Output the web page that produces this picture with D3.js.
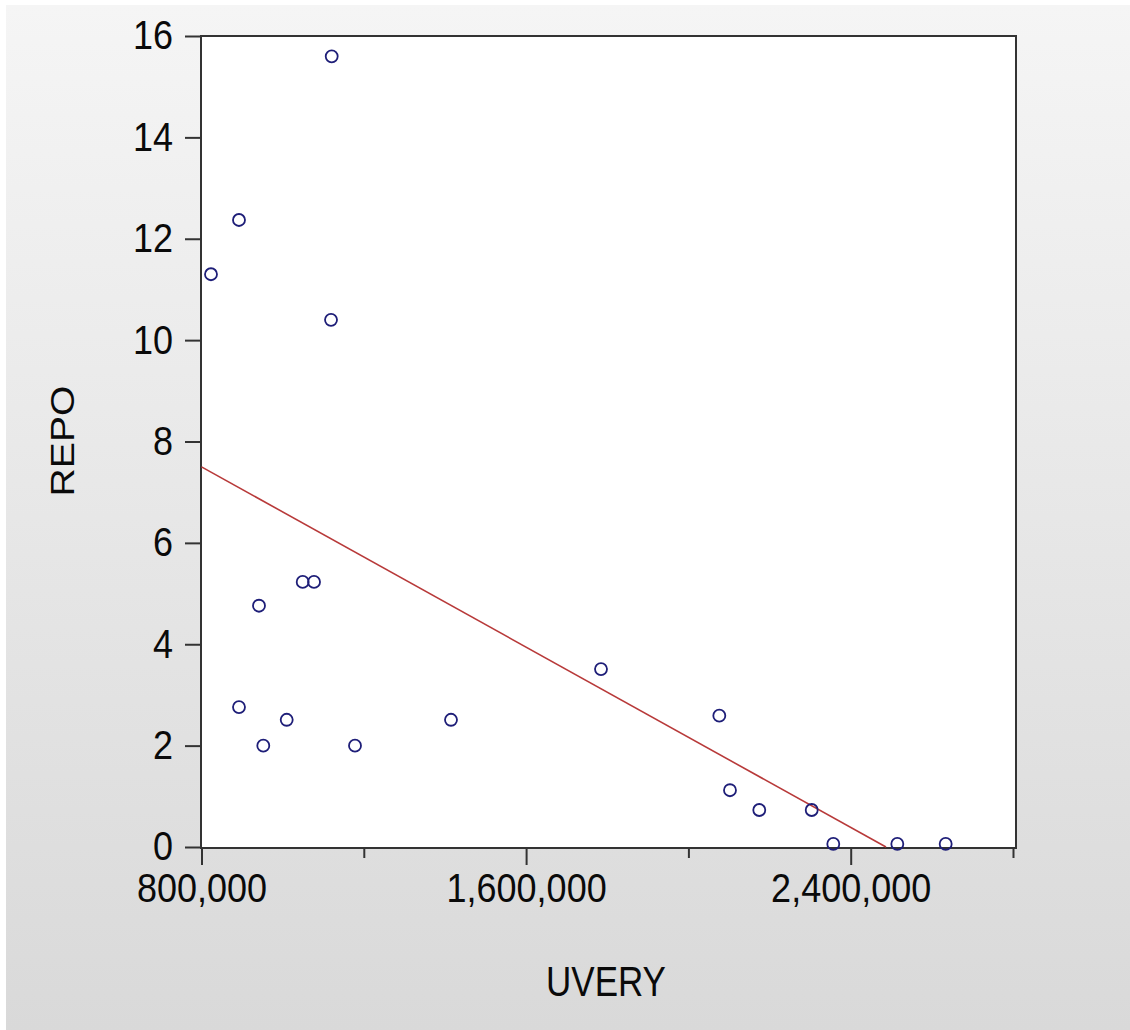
<!DOCTYPE html>
<html>
<head>
<meta charset="utf-8">
<script src="https://cdn.jsdelivr.net/npm/d3@7"></script>
<style>
  html, body { margin: 0; padding: 0; background: #ffffff; }
  svg { display: block; }
</style>
</head>
<body>
<svg id="chart" width="1130" height="1030"></svg>
<script>
// ---- data ----
const uvery = [823400, 892400, 1120900, 1119200, 941700, 1049400, 1077300, 892400, 952300, 1010000,
               1178300, 1414900, 1784600, 2076200, 2102500, 2174700, 2303900, 2357100, 2514900, 2634100];
const repo  = [11.30, 12.37, 15.60, 10.40, 4.76, 5.23, 5.23, 2.76, 2.00, 2.51,
               2.00, 2.51, 3.51, 2.59, 1.12, 0.73, 0.73, 0.06, 0.06, 0.06];
const fitX = [800000, 2487000];
const fitY = [7.50, 0];
const xMajorTicks = [800000, 1600000, 2400000];
const xMinorTicks = [1200000, 2000000, 2800000];
const yTicks = [0, 2, 4, 6, 8, 10, 12, 14, 16];
const xTitle = "UVERY";
const yTitle = "REPO";

// ---- layout ----
const svg = d3.select("#chart");
const W = 1130, H = 1030;
const L = 201, R = 1016, T = 36, B = 848;

const defs = svg.append("defs");
const grad = defs.append("linearGradient").attr("id", "bg").attr("x1", 0).attr("y1", 0).attr("x2", 0).attr("y2", 1);
grad.append("stop").attr("offset", "0%").attr("stop-color", "#f5f5f5");
grad.append("stop").attr("offset", "100%").attr("stop-color", "#d9d9d9");
defs.append("clipPath").attr("id", "plotclip").append("rect")
  .attr("x", L).attr("y", T).attr("width", R - L).attr("height", B - T);

svg.append("rect").attr("x", 6).attr("y", 5).attr("width", W - 6).attr("height", H - 5).attr("fill", "url(#bg)");

const x = d3.scaleLinear().domain([800000, 2807400]).range([L + 0.5, R]);
const y = d3.scaleLinear().domain([0, 16]).range([B - 1, T]);

// plot area
svg.append("rect").attr("x", L).attr("y", T).attr("width", R - L).attr("height", B - T)
  .attr("fill", "#ffffff").attr("stroke", "#333333").attr("stroke-width", 2);

const font = "'Liberation Sans', Arial, sans-serif";
const SY = 1.12; // vertical stretch of the reference text

// y axis
const yAxis = d3.axisLeft(y).tickValues(yTicks).tickSize(16).tickPadding(12).tickFormat(d3.format("d"));
const gy = svg.append("g").attr("transform", `translate(${L},0)`).call(yAxis);
gy.select(".domain").remove();
gy.selectAll(".tick line").attr("stroke", "#333333").attr("stroke-width", 2);
gy.selectAll(".tick text").attr("font-family", font).attr("font-size", 36).attr("fill", "#0a0a0a")
  .attr("transform", `scale(1,${SY})`);

// x axis major
const xAxis = d3.axisBottom(x).tickValues(xMajorTicks).tickSize(17).tickPadding(6).tickFormat(d3.format(","));
const gx = svg.append("g").attr("transform", `translate(0,${B})`).call(xAxis);
gx.select(".domain").remove();
gx.selectAll(".tick line").attr("stroke", "#333333").attr("stroke-width", 2);
gx.selectAll(".tick text").attr("font-family", font).attr("font-size", 36).attr("fill", "#0a0a0a")
  .attr("transform", `scale(1,${SY})`);

// x axis minor
const xAxisMinor = d3.axisBottom(x).tickValues(xMinorTicks).tickSize(10).tickFormat("");
const gxm = svg.append("g").attr("transform", `translate(0,${B})`).call(xAxisMinor);
gxm.select(".domain").remove();
gxm.selectAll(".tick line").attr("stroke", "#333333").attr("stroke-width", 2);

// fit line
const fit = fitX.map((v, i) => [v, fitY[i]]);
svg.append("path").datum(fit)
  .attr("clip-path", "url(#plotclip)")
  .attr("d", d3.line().x(d => x(d[0])).y(d => y(d[1])))
  .attr("fill", "none").attr("stroke", "#b83a3a").attr("stroke-width", 1.6);

// points
const pts = uvery.map((v, i) => [v, repo[i]]);
svg.append("g").selectAll("circle").data(pts).enter().append("circle")
  .attr("cx", d => x(d[0])).attr("cy", d => y(d[1])).attr("r", 6)
  .attr("fill", "none").attr("stroke", "#1e1e78").attr("stroke-width", 1.8);

// titles
svg.append("text").attr("transform", `translate(606,981) scale(1,1.2)`).attr("text-anchor", "middle").attr("dominant-baseline", "central")
  .attr("font-family", font).attr("font-size", 35).attr("fill", "#0a0a0a").text(xTitle);
svg.append("text").attr("transform", `translate(62,441) scale(1,1.15) rotate(-90)`).attr("text-anchor", "middle").attr("dominant-baseline", "central")
  .attr("font-family", font).attr("font-size", 34).attr("fill", "#0a0a0a").text(yTitle);
</script>
</body>
</html>
